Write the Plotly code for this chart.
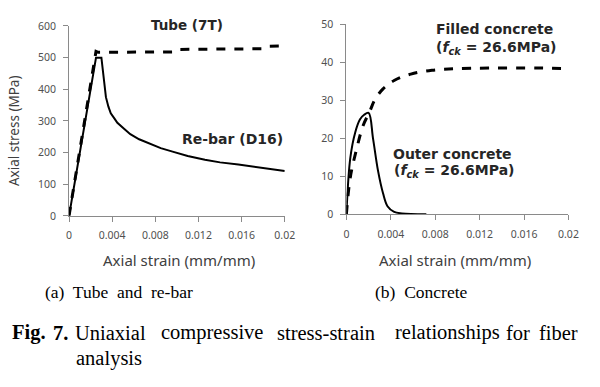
import plotly.graph_objects as go

# ---------------- data ----------------
tube_strain = [0, 0.0025, 0.0027, 0.0098, 0.0102, 0.0180, 0.0185, 0.0200]
tube_stress = [0, 520, 517, 518, 526, 528, 536, 537]

rebar_strain = [0, 0.0025, 0.0030, 0.0031, 0.0032, 0.0033, 0.00342, 0.00365, 0.00387,
                0.0042, 0.00448, 0.0051, 0.00568, 0.0065, 0.0075, 0.0085, 0.0096,
                0.0110, 0.0126, 0.0140, 0.0157, 0.0176, 0.0196, 0.0200]
rebar_stress = [0, 500, 500, 470, 436, 402, 375, 345, 324,
                308, 294, 275, 258, 242, 228, 214, 203,
                189, 177, 169, 162, 153, 144, 142]

filled_strain = [0, 0.00035, 0.00094, 0.0015, 0.00211, 0.00255, 0.0033, 0.0043,
                 0.0058, 0.0077, 0.0098, 0.0128, 0.0172, 0.0200]
filled_stress = [0, 9.7, 17.4, 23.3, 27.1, 30.1, 33.0, 35.2, 36.9, 37.9, 38.3, 38.5, 38.5, 38.3]

outer_strain = [0, 0.00035, 0.0008, 0.00123, 0.0016, 0.0020, 0.0024, 0.00285,
                0.0033, 0.0037, 0.0043, 0.0050, 0.0072]
outer_stress = [0, 14.8, 21.6, 25.0, 26.2, 26.7, 19.9, 11.4, 5.5, 2.1, 0.6, 0.2, 0.0]

x_ticks = [0, 0.004, 0.008, 0.012, 0.016, 0.02]
x_ticktext = ["0", "0.004", "0.008", "0.012", "0.016", "0.02"]
left_y_ticks = [0, 100, 200, 300, 400, 500, 600]
right_y_ticks = [0, 10, 20, 30, 40, 50]

caption_words = ["<b>Fig.</b>", "<b>7.</b>", "Uniaxial", "compressive", "stress-strain",
                 "relationships", "for", "fiber"]
caption_word_x = [8, 50, 73, 160, 279, 400, 513, 547]

W, H = 600, 387


def px(x, y):
    return x / W, 1 - y / H


fig = go.Figure()
fig.add_trace(go.Scatter(x=rebar_strain, y=rebar_stress, mode="lines",
                         line=dict(color="black", width=2), xaxis="x", yaxis="y"))
fig.add_trace(go.Scatter(x=tube_strain, y=tube_stress, mode="lines",
                         line=dict(color="black", width=3, dash="dash"), xaxis="x", yaxis="y"))
fig.add_trace(go.Scatter(x=outer_strain, y=outer_stress, mode="lines", line_shape="spline",
                         line=dict(color="black", width=2), xaxis="x2", yaxis="y2"))
fig.add_trace(go.Scatter(x=filled_strain, y=filled_stress, mode="lines", line_shape="spline",
                         line=dict(color="black", width=3, dash="dash"), xaxis="x2", yaxis="y2"))

axis_common = dict(showline=True, linecolor="#8a8a8a", linewidth=1, ticks="outside",
                   ticklen=5, tickcolor="#8a8a8a", showgrid=False, zeroline=False,
                   ticklabelstandoff=5,
                   tickfont=dict(family="Noto Sans", size=10.5, color="#505050"))

fig.update_layout(
    width=W, height=H, margin=dict(l=0, r=0, t=0, b=0),
    paper_bgcolor="white", plot_bgcolor="white", showlegend=False,
    xaxis=dict(domain=[px(67.5, 0)[0], px(288, 0)[0]], range=[0, 0.02],
               tickvals=x_ticks, ticktext=x_ticktext, anchor="y", **axis_common),
    yaxis=dict(domain=[px(0, 216.7)[1], px(0, 19.7)[1]], range=[0, 600],
               tickvals=left_y_ticks, anchor="x", **axis_common),
    xaxis2=dict(domain=[px(351, 0)[0], px(578, 0)[0]], range=[0, 0.02],
                tickvals=x_ticks, ticktext=x_ticktext, anchor="y2", **axis_common),
    yaxis2=dict(domain=[px(0, 215)[1], px(0, 18)[1]], range=[0, 50],
                tickvals=right_y_ticks, anchor="x2", **axis_common),
)

anns = []


def add(text, x, y, size, family="DejaVu Sans", bold=False, color="#262626",
        xanchor="center", angle=0):
    ax, ay = px(x, y)
    if bold:
        text = "<b>" + text + "</b>"
    anns.append(dict(text=text, x=ax, y=ay, xref="paper", yref="paper",
                     xanchor=xanchor, yanchor="middle", showarrow=False, textangle=angle,
                     borderpad=0,
                     font=dict(family=family, size=size, color=color)))


add("Tube (7T)", 188, 19, 13.5, bold=True)
add("Re-bar (D16)", 235, 137, 14, bold=True)
add("Filled concrete", 502, 23, 14, bold=True)
add("(<i>f<sub>ck</sub></i> = 26.6MPa)", 504, 43, 14, bold=True)
add("Outer concrete", 459, 152, 14, bold=True)
add("(<i>f<sub>ck</sub></i> = 26.6MPa)", 462, 170, 14, bold=True)

add("Axial stress (MPa)", 12, 128, 13.5, family="Noto Sans", color="#404040", angle=-90)
add("Axial strain (mm/mm)", 180, 262, 15, family="Noto Sans", color="#404040")
add("Axial strain (mm/mm)", 462, 262, 15, family="Noto Sans", color="#404040")

add("(a)  Tube  and  re-bar", 119, 296, 17.5, family="Liberation Serif", color="black")
add("(b)  Concrete", 428, 296, 17.5, family="Liberation Serif", color="black")
for word, wx in zip(caption_words, caption_word_x):
    add(word, wx, 338, 20.5, family="Liberation Serif", color="black", xanchor="left")
add("analysis", 74, 365, 20.5, family="Liberation Serif", color="black", xanchor="left")

fig.update_layout(annotations=anns)
fig.write_html("out.html", config={"displayModeBar": False},
               post_script="document.body.style.margin='0';document.body.style.padding='0';")
